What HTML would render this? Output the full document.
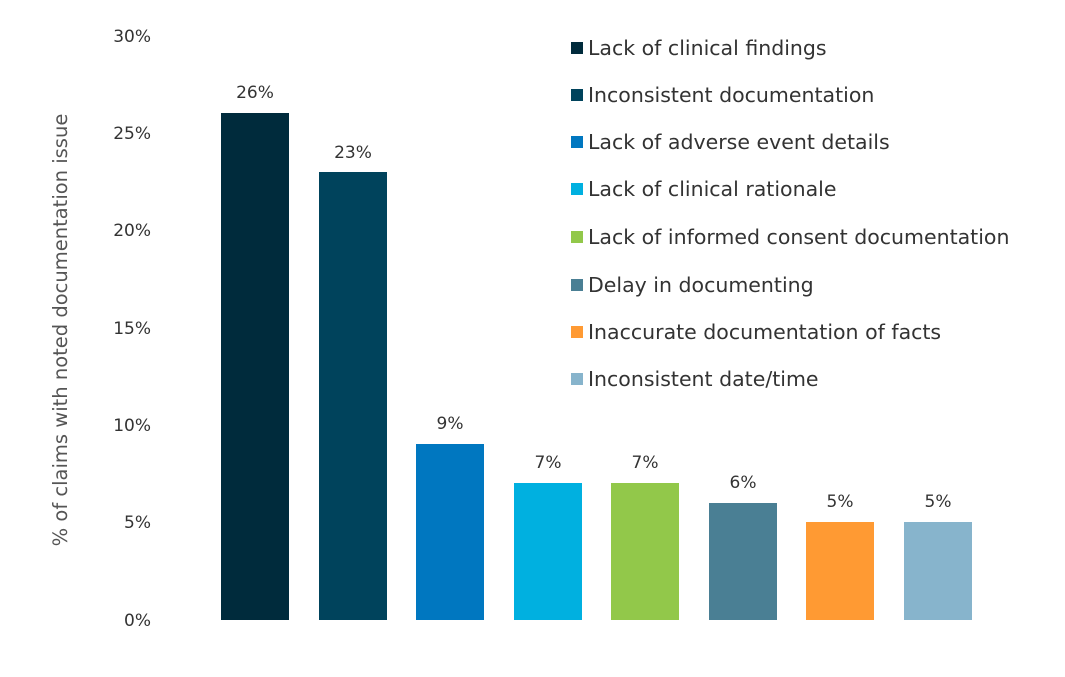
<!DOCTYPE html>
<html><head><meta charset="utf-8"><style>
body{margin:0;background:#fff}
svg text{font-family:"DejaVu Sans","Liberation Sans",sans-serif;fill:#333}
</style></head><body>
<svg width="1065" height="672" viewBox="0 0 1065 672" xmlns="http://www.w3.org/2000/svg">
<g font-size="17" text-anchor="end">
<text x="151" y="626">0%</text>
<text x="151" y="528">5%</text>
<text x="151" y="431">10%</text>
<text x="151" y="334">15%</text>
<text x="151" y="236">20%</text>
<text x="151" y="139">25%</text>
<text x="151" y="42">30%</text>
</g>
<text transform="translate(67,330) rotate(-90)" font-size="19.5" text-anchor="middle" style="fill:#555">% of claims with noted documentation issue</text>
<g>
<rect x="221" y="113" width="68" height="507" fill="#002b3c"/>
<rect x="319" y="172" width="68" height="448" fill="#00435c"/>
<rect x="416" y="444" width="68" height="176" fill="#0077c0"/>
<rect x="514" y="483" width="68" height="137" fill="#00b0e0"/>
<rect x="611" y="483" width="68" height="137" fill="#92c84a"/>
<rect x="709" y="503" width="68" height="117" fill="#4a7f94"/>
<rect x="806" y="522" width="68" height="98" fill="#ff9a33"/>
<rect x="904" y="522" width="68" height="98" fill="#87b4cc"/>
</g>
<g font-size="17" text-anchor="middle">
<text x="255" y="98">26%</text>
<text x="353" y="158">23%</text>
<text x="450" y="429">9%</text>
<text x="548" y="468">7%</text>
<text x="645" y="468">7%</text>
<text x="743" y="488">6%</text>
<text x="840" y="507">5%</text>
<text x="938" y="507">5%</text>
</g>
<g font-size="20.5">
<rect x="571" y="42" width="12" height="12" fill="#002b3c"/><text x="588" y="55">Lack of clinical findings</text>
<rect x="571" y="89" width="12" height="12" fill="#00435c"/><text x="588" y="102">Inconsistent documentation</text>
<rect x="571" y="136" width="12" height="12" fill="#0077c0"/><text x="588" y="149">Lack of adverse event details</text>
<rect x="571" y="183" width="12" height="12" fill="#00b0e0"/><text x="588" y="196">Lack of clinical rationale</text>
<rect x="571" y="231" width="12" height="12" fill="#92c84a"/><text x="588" y="244">Lack of informed consent documentation</text>
<rect x="571" y="279" width="12" height="12" fill="#4a7f94"/><text x="588" y="292">Delay in documenting</text>
<rect x="571" y="326" width="12" height="12" fill="#ff9a33"/><text x="588" y="339">Inaccurate documentation of facts</text>
<rect x="571" y="373" width="12" height="12" fill="#87b4cc"/><text x="588" y="386">Inconsistent date/time</text>
</g>
</svg>
</body></html>
